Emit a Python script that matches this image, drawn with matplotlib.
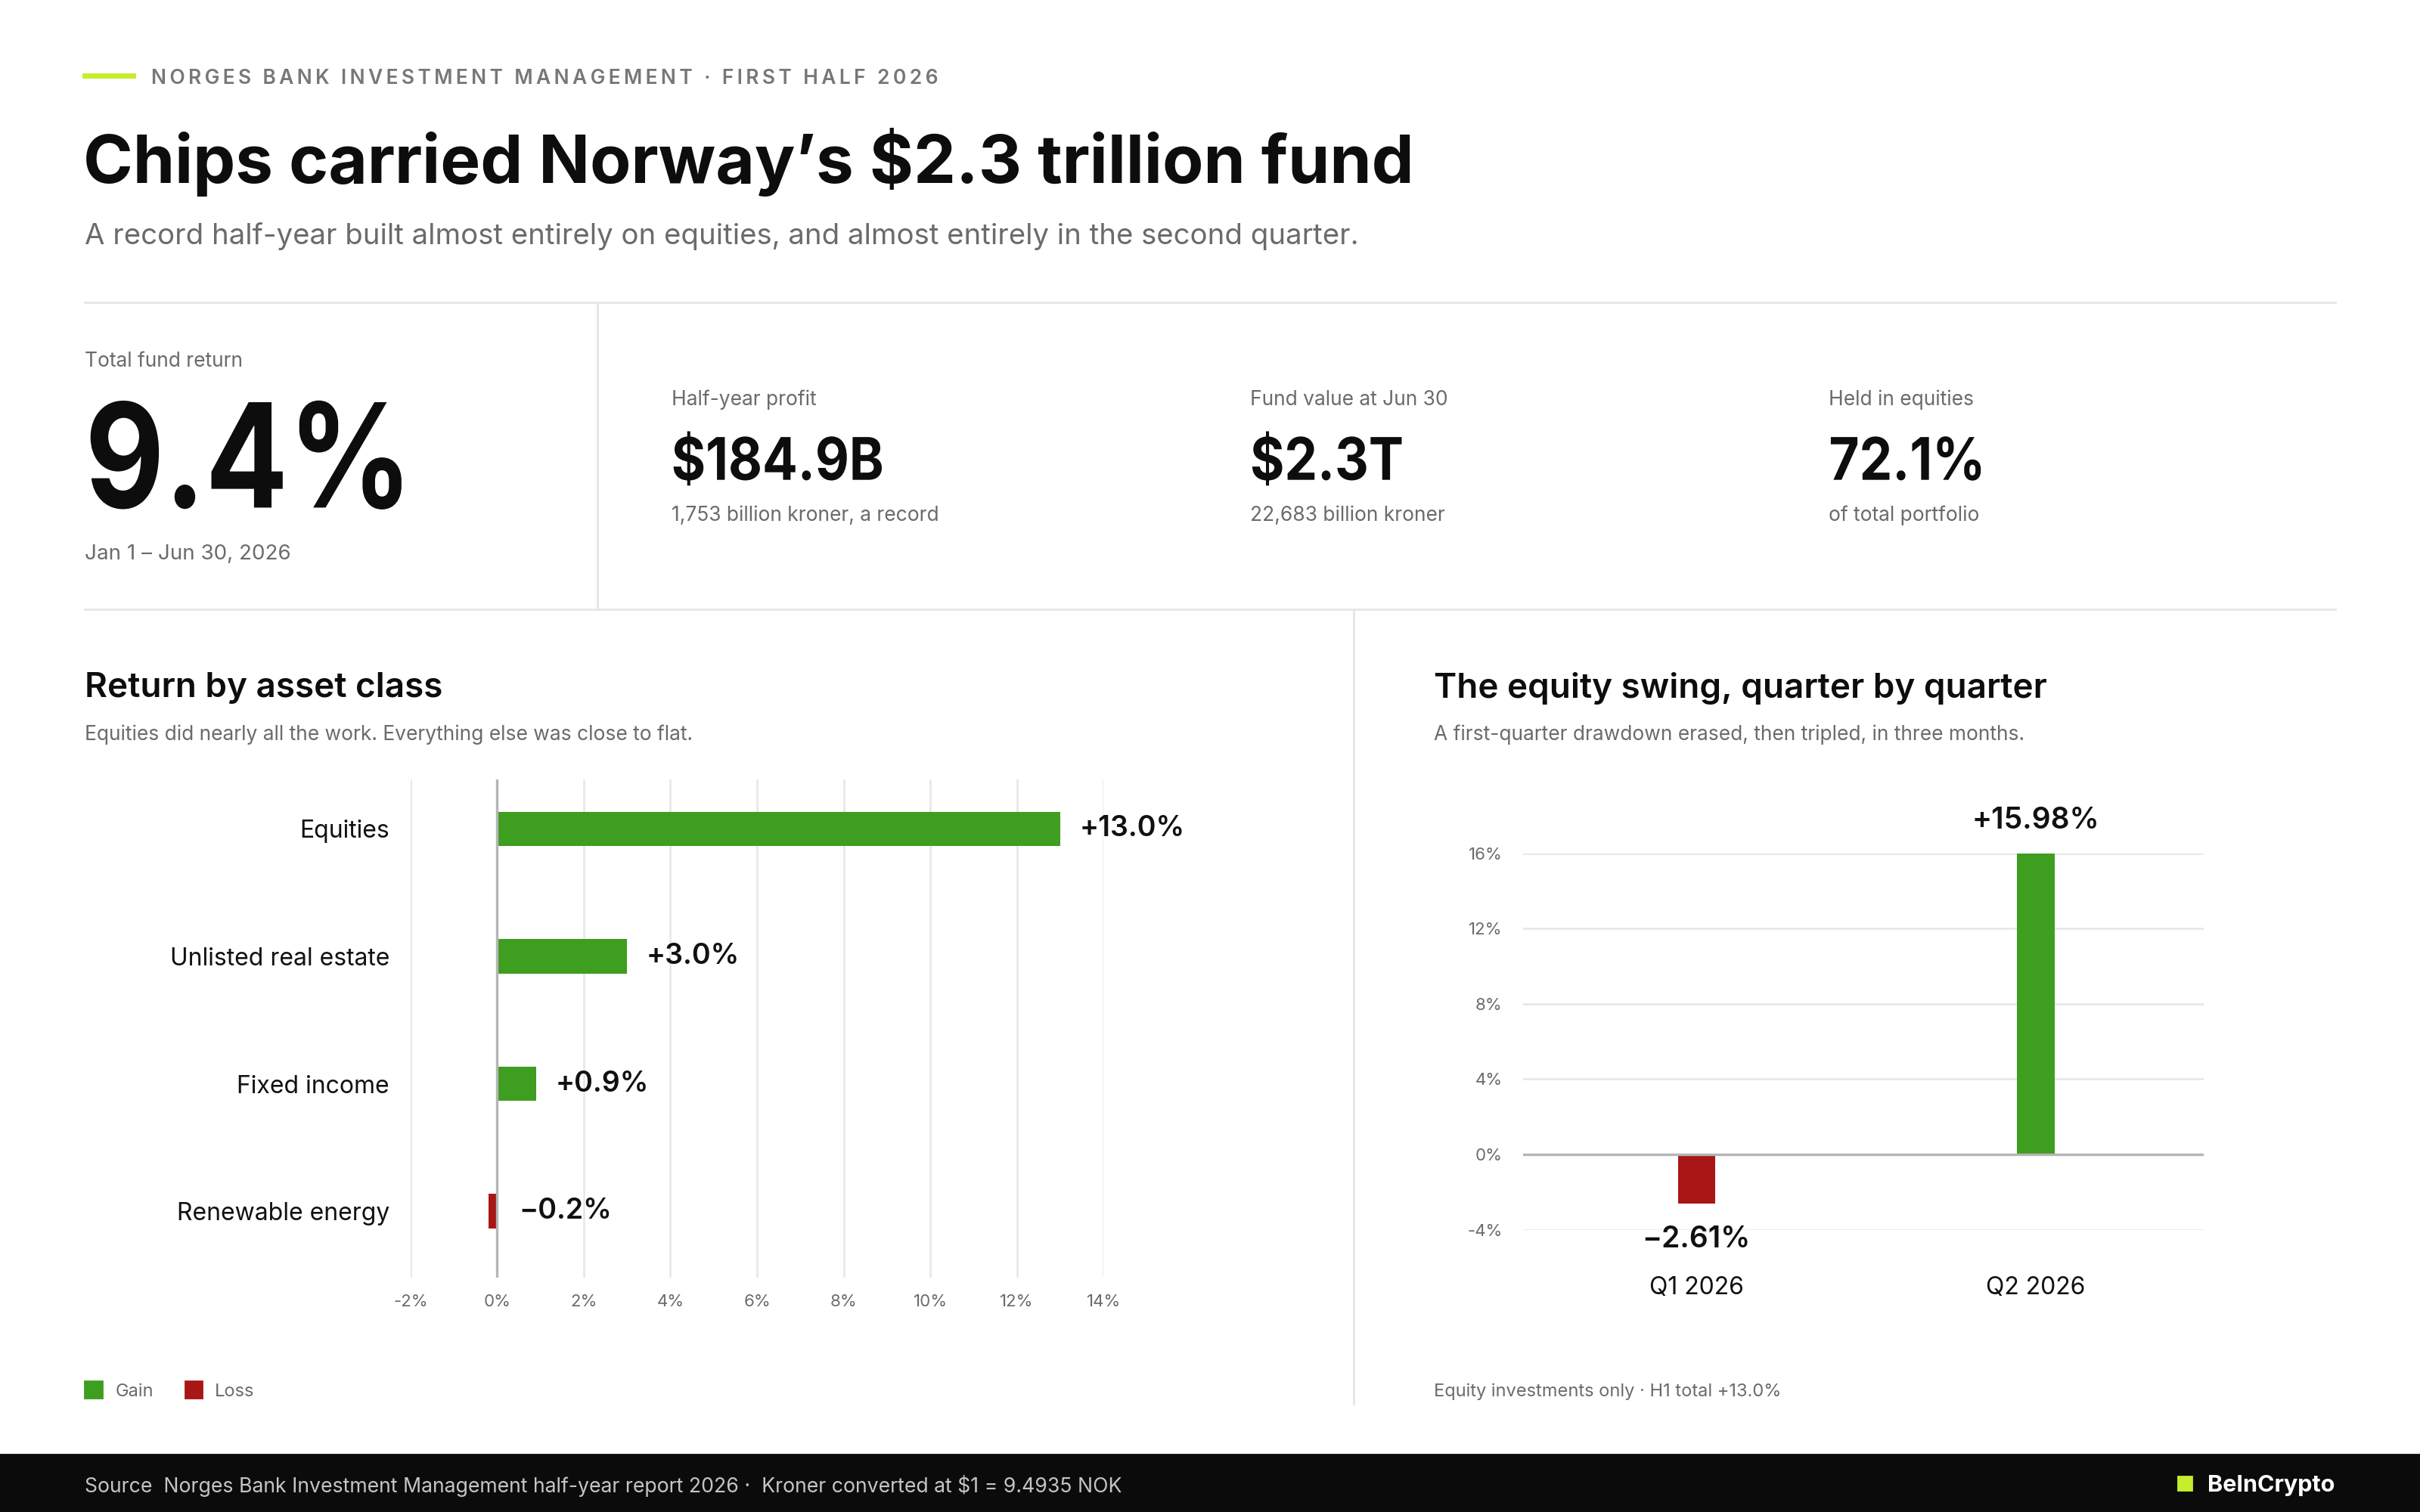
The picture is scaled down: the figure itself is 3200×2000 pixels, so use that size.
import matplotlib
matplotlib.use('Agg')
import matplotlib.pyplot as plt
import matplotlib.transforms as mtransforms
from matplotlib.patches import Rectangle, PathPatch
from matplotlib.textpath import TextPath
from matplotlib.font_manager import FontProperties

plt.rcParams['font.family'] = ['Inter', 'DejaVu Sans']

# data
asset_classes = ['Equities', 'Unlisted real estate', 'Fixed income', 'Renewable energy']
asset_returns = [13.0, 3.0, 0.9, -0.2]
asset_labels = ['+13.0%', '+3.0%', '+0.9%', '\u22120.2%']
x_ticks = [-2, 0, 2, 4, 6, 8, 10, 12, 14]

quarters = ['Q1 2026', 'Q2 2026']
equity_returns = [-2.61, 15.98]
quarter_labels = ['\u22122.61%', '+15.98%']
y_ticks = [-4, 0, 4, 8, 12, 16]

kpi_labels = ['Half-year profit', 'Fund value at Jun 30', 'Held in equities']
kpi_values = ['$184.9B', '$2.3T', '72.1%']
kpi_notes = ['1,753 billion kroner, a record', '22,683 billion kroner', 'of total portfolio']

GREEN = '#3e9e1f'
RED = '#a81616'
LIME = '#c6ee2c'
GRID = '#e6e6e6'
GRAY = '#6b6b6b'

W, H = 1568, 980
DPI = 200
PX = 3200 / W  # output pixels per reference pixel


def X(x):
    return x / W


def Y(y):
    return 1 - y / H


def label(x, y, s, **kw):
    # inter sits a little high with va=center, nudge down
    return fig.text(X(x), Y(y + 2), s, va='center', **kw)


def squeezed(x, baseline, s, size, sx, color='#0d0d0d'):
    # big numbers in the reference use a narrow, tightly tracked face
    tp = TextPath((0, 0), s, size=size, prop=FontProperties(family='Inter', weight='bold'))
    k = DPI / 72
    tr = mtransforms.Affine2D().scale(k * sx, k).translate(x * PX, (H - baseline) * PX)
    fig.add_artist(PathPatch(tp, transform=tr, facecolor=color, lw=0))


fig = plt.figure(figsize=(16, 10), dpi=DPI)
fig.patch.set_facecolor('white')

# header
fig.add_artist(plt.Line2D([X(55), X(86)], [Y(49), Y(49)], color=LIME, lw=2.5))
label(98, 49, '\u2009'.join('NORGES BANK INVESTMENT MANAGEMENT · FIRST HALF 2026'),
      fontsize=9.5, color='#777777', fontweight='semibold')
label(54, 103, 'Chips carried Norway\u2019s $2.3 trillion fund', fontsize=32, fontweight='bold', color='#0d0d0d')
label(55, 151, 'A record half-year built almost entirely on equities, and almost entirely in the second quarter.',
      fontsize=13.8, color=GRAY)

# separators
fig.add_artist(plt.Line2D([X(55), X(1513)], [Y(196), Y(196)], color=GRID, lw=1))
fig.add_artist(plt.Line2D([X(55), X(1513)], [Y(395), Y(395)], color=GRID, lw=1))
fig.add_artist(plt.Line2D([X(387), X(387)], [Y(196), Y(395)], color=GRID, lw=1))
fig.add_artist(plt.Line2D([X(877), X(877)], [Y(395), Y(910)], color=GRID, lw=1))

# KPI block
label(55, 232, 'Total fund return', fontsize=9.5, color=GRAY)
squeezed(55, 329, '9.4%', 69, 0.845)
label(55, 357, 'Jan 1 \u2013 Jun 30, 2026', fontsize=10, color=GRAY)
for i, (lab, val, note) in enumerate(zip(kpi_labels, kpi_values, kpi_notes)):
    x0 = 435 + i * 375
    label(x0, 257, lab, fontsize=9.5, color=GRAY)
    squeezed(x0, 311, val, 28, 0.89)
    label(x0, 332, note, fontsize=9.5, color=GRAY)

# left panel
label(55, 444, 'Return by asset class', fontsize=16.5, fontweight='semibold', color='#0d0d0d')
label(55, 474, 'Equities did nearly all the work. Everything else was close to flat.', fontsize=9.5, color=GRAY)

ax1 = fig.add_axes([X(266), Y(828), (715 - 266) / W, (828 - 505) / H])
ypos = list(range(len(asset_classes)))
colors1 = [GREEN if v >= 0 else RED for v in asset_returns]
ax1.barh(ypos, asset_returns, height=0.27, color=colors1, zorder=3)
ax1.set_xlim(-2, 14)
ax1.set_ylim(3.52, -0.39)
ax1.set_xticks(x_ticks)
ax1.set_xticklabels([f'{t}%' for t in x_ticks])
ax1.set_yticks(ypos)
ax1.set_yticklabels(asset_classes)
ax1.grid(axis='x', color=GRID, lw=0.9, zorder=0)
ax1.axvline(0, color='#b5b5b5', lw=1.2, zorder=4)
for s in ax1.spines.values():
    s.set_visible(False)
ax1.tick_params(axis='x', length=0, labelsize=8, labelcolor=GRAY, pad=8)
ax1.tick_params(axis='y', length=0, labelsize=11.5, labelcolor='#111111', pad=10)
for yp, v, lab in zip(ypos, asset_returns, asset_labels):
    xt = v + 0.45 if v >= 0 else 0.5
    ax1.text(xt, yp, lab, fontsize=13.5, fontweight='semibold', color='#111111',
             va='center', ha='left', clip_on=False)

# legend
fig.add_artist(Rectangle((X(55), Y(906)), 11 / W, 11 / H, color=GREEN, transform=fig.transFigure))
label(75, 900, 'Gain', fontsize=8.5, color=GRAY)
fig.add_artist(Rectangle((X(120), Y(906)), 11 / W, 11 / H, color=RED, transform=fig.transFigure))
label(139, 900, 'Loss', fontsize=8.5, color=GRAY)

# right panel
label(929, 444, 'The equity swing, quarter by quarter', fontsize=16.5, fontweight='semibold', color='#0d0d0d')
label(929, 474, 'A first-quarter drawdown erased, then tripled, in three months.', fontsize=9.5, color=GRAY)

ax2 = fig.add_axes([X(987), Y(797), (1428 - 987) / W, (797 - 553) / H])
xpos = list(range(len(quarters)))
colors2 = [GREEN if v >= 0 else RED for v in equity_returns]
ax2.bar(xpos, equity_returns, width=0.11, color=colors2, zorder=3)
ax2.set_xlim(-0.51, 1.495)
ax2.set_ylim(-4, 16)
ax2.set_yticks(y_ticks)
ax2.set_yticklabels([f'{t}%' for t in y_ticks])
ax2.set_xticks(xpos)
ax2.set_xticklabels(quarters)
ax2.grid(axis='y', color=GRID, lw=0.9, zorder=0)
ax2.axhline(0, color='#b5b5b5', lw=1.2, zorder=4)
for s in ax2.spines.values():
    s.set_visible(False)
ax2.tick_params(axis='y', length=0, labelsize=8, labelcolor=GRAY, pad=10)
ax2.tick_params(axis='x', length=0, labelsize=11.5, labelcolor='#111111', pad=22)
for xp, v, lab in zip(xpos, equity_returns, quarter_labels):
    if v >= 0:
        ax2.text(xp, v + 1.0, lab, fontsize=14, fontweight='semibold', color='#111111',
                 ha='center', va='bottom', clip_on=False)
    else:
        ax2.text(xp, v - 1.15, lab, fontsize=14, fontweight='semibold', color='#111111',
                 ha='center', va='top', clip_on=False)

label(929, 900, 'Equity investments only \u00b7 H1 total +13.0%', fontsize=8.5, color=GRAY)

# footer
fig.add_artist(Rectangle((0, 0), 1, (980 - 943) / H, color='#0b0b0b', transform=fig.transFigure))
label(55, 961, 'Source  Norges Bank Investment Management half-year report 2026 \u00b7  Kroner converted at $1 = 9.4935 NOK',
      fontsize=9.6, color='#c4c4c4')
fig.add_artist(Rectangle((X(1411), Y(966)), 9 / W, 9 / H, color=LIME, transform=fig.transFigure))
label(1513, 961, 'BeInCrypto', fontsize=11, fontweight='bold', color='white', ha='right')

fig.savefig('out.png', dpi=DPI, facecolor='white')
